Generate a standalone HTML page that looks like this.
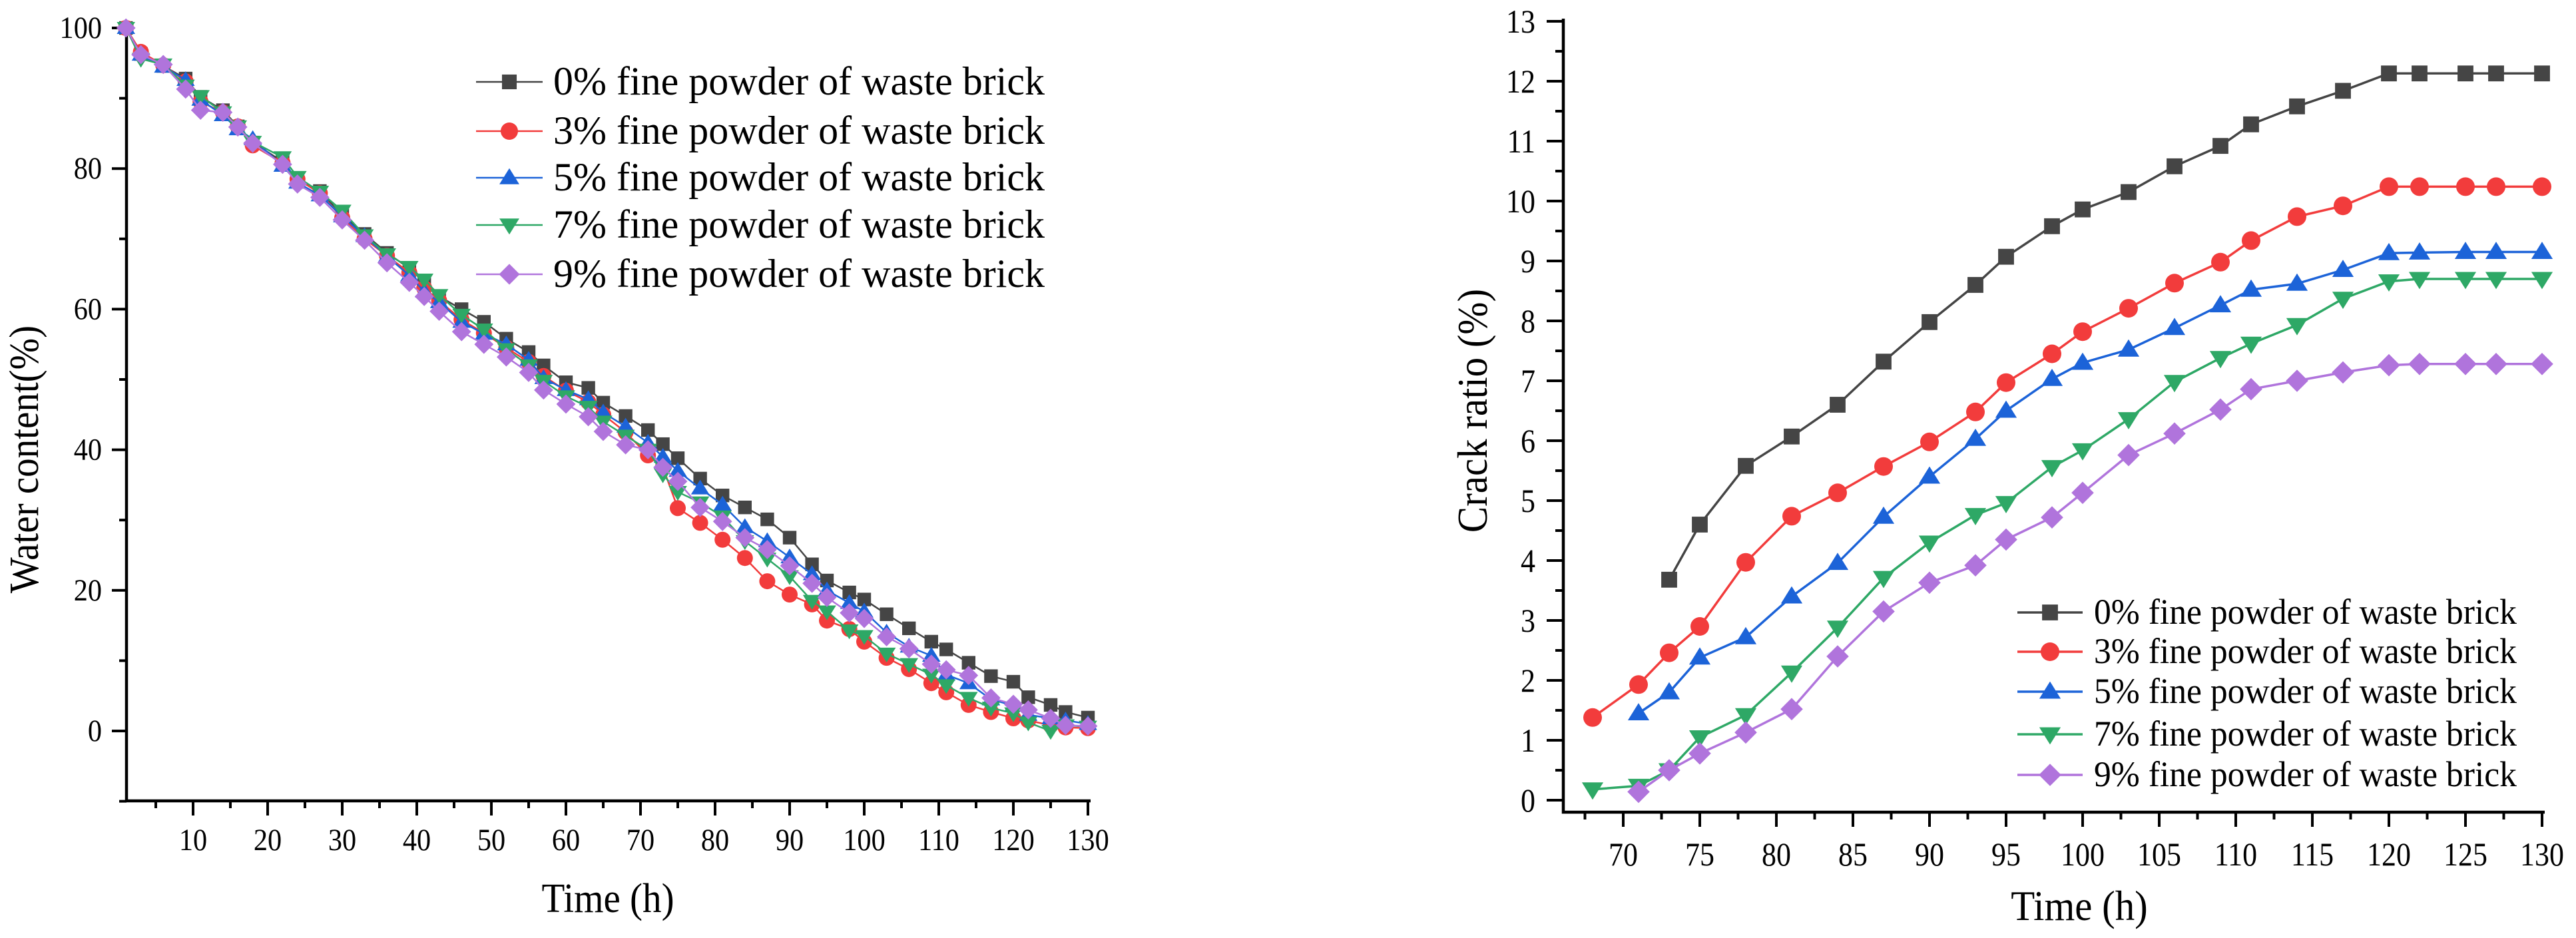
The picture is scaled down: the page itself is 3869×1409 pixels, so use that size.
<!DOCTYPE html>
<html><head><meta charset="utf-8"><style>
html,body{margin:0;padding:0;background:#fff;}
svg{display:block;font-family:"Liberation Serif",serif;}
svg text{font-family:"Liberation Serif","Times New Roman",serif;}
</style></head><body>
<svg id="fig" width="3869" height="1409" viewBox="0 0 3869 1409" xmlns="http://www.w3.org/2000/svg">
<rect width="3869" height="1409" fill="#fff"/>
<g id="left"></g>
<g id="right"></g>
</svg>
<script>
// ---- Shared series meta ----
const seriesNames = ["0% fine powder of waste brick","3% fine powder of waste brick","5% fine powder of waste brick","7% fine powder of waste brick","9% fine powder of waste brick"];
const seriesKeys = ["0pct","3pct","5pct","7pct","9pct"];
const colors = ["#454545","#f23c3c","#1c63d8","#2ea866","#b074dc"];
const markers = ["square","circle","triangle","down","diamond"];

// ---- Left chart data (water content) ----
const timeL = [1,3,6,9,11,14,16,18,22,24,27,30,33,36,39,41,43,46,49,52,55,57,60,63,65,68,71,73,75,78,81,84,87,90,93,95,98,100,103,106,109,111,114,117,120,122,125,127,130];
const water0 = [100,96.3,94.6,92.8,90.2,88.3,86,83.7,81,78.3,76.8,73.4,70.7,68,65.8,63.9,61.8,60,58.2,55.8,53.9,52,49.6,48.8,46.7,44.8,42.8,40.8,38.8,35.9,33.5,31.8,30.1,27.5,23.7,21.4,19.7,18.7,16.6,14.6,12.7,11.6,9.7,7.8,7,4.8,3.7,2.7,1.9];
const water3 = [100,96.6,94.7,92.4,89.5,88,86,83.3,80.8,78.5,76.5,73,70,67.6,65.2,63,61.2,58.5,56.6,54.5,52.5,50.5,48.4,46.8,45,42.5,39.2,37.5,31.7,29.6,27.2,24.6,21.3,19.4,18,15.7,14.5,12.7,10.4,8.8,6.8,5.5,3.7,2.7,1.8,1.5,0.8,0.5,0.4];
const water5 = [100,96.2,94.5,92.6,89.8,87.6,85.6,84.2,80.4,78,76.2,73.2,70.4,67.5,64.8,62.5,61,58.2,56.5,55,52.8,50.2,48.5,47.2,45.3,43.3,41,39,37,34.5,32.2,29,27,24.7,22.3,20,18.2,17,14,12,10.7,8,6.8,4.5,3.6,2.3,1.8,1.5,1];
const water7 = [100,95.6,94.8,91.8,90.3,88,86,83.8,81.6,78.8,76.7,74,70.5,67.8,66,64.2,62,59.2,57.1,54.3,52,49.8,47.6,46.1,44,42,40,36.5,34,32.5,30.5,27,24.5,22,18.5,17,14.3,13.5,11,9.5,8,6.5,4.7,3.3,2.5,1.2,0,0.8,0.6];
const water9 = [100,96.2,94.8,91.3,88.3,88,85.9,83.6,80.6,77.8,75.9,72.7,69.8,66.6,63.8,61.8,59.7,56.8,55,53.2,51,48.5,46.5,44.7,42.6,40.7,40,37.5,35.5,31.8,29.8,27.5,25.8,23.5,21,19,16.8,16,13.4,11.7,9.5,8.7,7.9,4.7,3.8,3,1.8,0.8,0.7];
const xTicksL = [10,20,30,40,50,60,70,80,90,100,110,120,130];
const yTicksL = [0,20,40,60,80,100];

// ---- Right chart data (crack ratio) ----
const time0R = [73,75,78,81,84,87,90,93,95,98,100,103,106,109,111,114,117,120,122,125,127,130];
const crack0 = [3.68,4.6,5.58,6.07,6.6,7.32,7.98,8.6,9.07,9.58,9.86,10.15,10.58,10.92,11.28,11.58,11.84,12.13,12.13,12.13,12.13,12.13];
const time3R = [68,71,73,75,78,81,84,87,90,93,95,98,100,103,106,109,111,114,117,120,122,125,127,130];
const crack3 = [1.38,1.93,2.46,2.9,3.97,4.74,5.13,5.57,5.98,6.48,6.97,7.45,7.82,8.21,8.63,8.98,9.34,9.74,9.92,10.24,10.24,10.24,10.24,10.24];
const time5R = [71,73,75,78,81,84,87,90,93,95,98,100,103,106,109,111,114,117,120,122,125,127,130];
const crack5 = [1.45,1.8,2.38,2.72,3.4,3.96,4.73,5.4,6.03,6.5,7.03,7.3,7.52,7.88,8.26,8.52,8.62,8.85,9.13,9.14,9.15,9.15,9.15];
const time7R = [68,71,73,75,78,81,84,87,90,93,95,98,100,103,106,109,111,114,117,120,122,125,127,130];
const crack7 = [0.18,0.24,0.5,1.05,1.42,2.13,2.88,3.71,4.3,4.76,4.96,5.56,5.84,6.36,6.98,7.38,7.62,7.93,8.37,8.66,8.7,8.7,8.7,8.7];
const time9R = [71,73,75,78,81,84,87,90,93,95,98,100,103,106,109,111,114,117,120,122,125,127,130];
const crack9 = [0.14,0.5,0.78,1.13,1.52,2.4,3.15,3.63,3.92,4.35,4.72,5.13,5.76,6.12,6.52,6.86,7,7.14,7.26,7.28,7.28,7.28,7.28];
const xTicksR = [70,75,80,85,90,95,100,105,110,115,120,125,130];
const yTicksR = [0,1,2,3,4,5,6,7,8,9,10,11,12,13];

const NS = "http://www.w3.org/2000/svg";
const FF = '"Liberation Serif", "Times New Roman", serif';
function mk(parent, tag, attrs){
  const e = document.createElementNS(NS, tag);
  for (const k in attrs) e.setAttribute(k, attrs[k]);
  if (tag === "text") e.setAttribute("font-family", FF);
  parent.appendChild(e);
  return e;
}
function marker(g, type, cx, cy, r, color){
  let e;
  if (type==="square") e = mk(g,"rect",{x:cx-r*0.85,y:cy-r*0.85,width:r*1.7,height:r*1.7,fill:color});
  else if (type==="circle") e = mk(g,"circle",{cx:cx,cy:cy,r:r,fill:color});
  else if (type==="triangle") e = mk(g,"polygon",{points:`${cx},${cy-r*1.1} ${cx+r*1.15},${cy+r*0.75} ${cx-r*1.15},${cy+r*0.75}`,fill:color});
  else if (type==="down") e = mk(g,"polygon",{points:`${cx},${cy+r*1.1} ${cx+r*1.15},${cy-r*0.75} ${cx-r*1.15},${cy-r*0.75}`,fill:color});
  else e = mk(g,"polygon",{points:`${cx},${cy-r*1.2} ${cx+r*1.2},${cy} ${cx},${cy+r*1.2} ${cx-r*1.2},${cy}`,fill:color});
  return e;
}
// narrow text helper (reference glyphs are slightly condensed)
function ntext(g, x, y, size, anchor, str, sx){
  const t = mk(g,"text",{x:0,y:0,"font-size":size,"text-anchor":anchor,transform:`translate(${x},${y}) scale(${sx},1)`});
  t.textContent = str;
  return t;
}

// ================= LEFT CHART =================
(function(){
  const g = document.getElementById("left");
  const X0=190, X1=1634, Y0=1203, YT=38;
  const xs = t => 290 + (t-10)*11.2;
  const ys = v => 1098 - v*10.56;
  const ax = mk(g,"path",{d:`M${X0},${YT} L${X0},${Y0} L${X1+4},${Y0}`,stroke:"#000","stroke-width":4.5,fill:"none"});
  
  
  for (let t=5;t<=130;t+=5){
    const major = t%10===0;
    const tk = mk(g,"line",{x1:xs(t),y1:Y0,x2:xs(t),y2:Y0+(major?22:11),stroke:"#000","stroke-width":4});
    
    
  }
  xTicksL.forEach(t=>{
    const tx = ntext(g, xs(t), 1277, 47, "middle", t, 0.9);
    
    
  });
  for (let v=-10; v<=100; v+=10){
    const major = v%20===0;
    const tk = mk(g,"line",{x1:X0,y1:ys(v),x2:X0-(major?22:11),y2:ys(v),stroke:"#000","stroke-width":4});
    
    
  }
  yTicksL.forEach(v=>{
    const tx = ntext(g, 153, ys(v)+15, 47, "end", v, 0.9);
    
    
  });
  const xt = ntext(g, 913, 1370, 62, "middle", "Time (h)", 0.92);
  
  
  const yt = mk(g,"text",{x:0,y:0,"font-size":62,"text-anchor":"middle",transform:"translate(57,690) rotate(-90) scale(0.92,1)"});
  yt.textContent = "Water content(%)";
  
  

  const data = [water0,water3,water5,water7,water9];
  data.forEach((vals,i)=>{
    const sg = mk(g,"g",{});
    
    
    const pts = timeL.map((t,j)=>xs(t)+","+ys(vals[j])).join(" ");
    const pl = mk(sg,"polyline",{points:pts,fill:"none",stroke:colors[i],"stroke-width":2.5});
    
    
    timeL.forEach((t,j)=>{
      const m = marker(sg, markers[i], xs(t), ys(vals[j]), 12, colors[i]);
      
      
    });
  });
  const lg = mk(g,"g",{});
  
  
  const ly = [123,197,267,338,412];
  seriesNames.forEach((n,i)=>{
    const e = mk(lg,"g",{});
    
    
    mk(e,"line",{x1:715,y1:ly[i],x2:815,y2:ly[i],stroke:colors[i],"stroke-width":2.5});
    marker(e, markers[i], 765, ly[i], 13, colors[i]);
    const tx = mk(e,"text",{x:831,y:ly[i]+19,"font-size":60,textLength:738,lengthAdjust:"spacingAndGlyphs"});
    tx.textContent = n;
  });
})();

// ================= RIGHT CHART =================
(function(){
  const g = document.getElementById("right");
  const X0=2348, X1=3822, Y0=1220, YT=28;
  const xs = t => 2438 + (t-70)*23;
  const ys = v => 1202 - v*90;
  const ax = mk(g,"path",{d:`M${X0},${YT} L${X0},${Y0} L${X1},${Y0}`,stroke:"#000","stroke-width":4.5,fill:"none"});
  
  
  for (let t=67.5;t<=130.01;t+=2.5){
    const major = Math.abs(t%5)<0.01;
    const tk = mk(g,"line",{x1:xs(t),y1:Y0,x2:xs(t),y2:Y0+(major?22:11),stroke:"#000","stroke-width":4});
    
    
  }
  xTicksR.forEach(t=>{
    const tx = ntext(g, xs(t), 1300, 50, "middle", t, 0.88);
    
    
  });
  for (let v=0; v<=13.01; v+=0.5){
    const major = Math.abs(v%1)<0.01;
    const tk = mk(g,"line",{x1:X0,y1:ys(v),x2:X0-(major?25:12),y2:ys(v),stroke:"#000","stroke-width":4});
    
    
  }
  yTicksR.forEach(v=>{
    const tx = ntext(g, 2306, ys(v)+17, 50, "end", v, 0.88);
    
    
  });
  const xt = ntext(g, 3123, 1382, 64, "middle", "Time (h)", 0.92);
  
  
  const yt = mk(g,"text",{x:0,y:0,"font-size":64,"text-anchor":"middle",transform:"translate(2233,617) rotate(-90) scale(0.92,1)"});
  yt.textContent = "Crack ratio (%)";
  
  

  const times = [time0R,time3R,time5R,time7R,time9R];
  const data = [crack0,crack3,crack5,crack7,crack9];
  data.forEach((vals,i)=>{
    const sg = mk(g,"g",{});
    
    
    const ts = times[i];
    const pts = ts.map((t,j)=>xs(t)+","+ys(vals[j])).join(" ");
    const pl = mk(sg,"polyline",{points:pts,fill:"none",stroke:colors[i],"stroke-width":3.5});
    
    
    ts.forEach((t,j)=>{
      const m = marker(sg, markers[i], xs(t), ys(vals[j]), 14, colors[i]);
      
      
    });
  });
  const lg = mk(g,"g",{});
  
  
  const ly = [920,979,1039,1103,1164];
  seriesNames.forEach((n,i)=>{
    const e = mk(lg,"g",{});
    
    
    mk(e,"line",{x1:3030,y1:ly[i],x2:3128,y2:ly[i],stroke:colors[i],"stroke-width":3.5});
    marker(e, markers[i], 3079, ly[i], 14, colors[i]);
    const tx = mk(e,"text",{x:3145,y:ly[i]+17,"font-size":54,textLength:635,lengthAdjust:"spacingAndGlyphs"});
    tx.textContent = n;
  });
})();
</script>
</body></html>
